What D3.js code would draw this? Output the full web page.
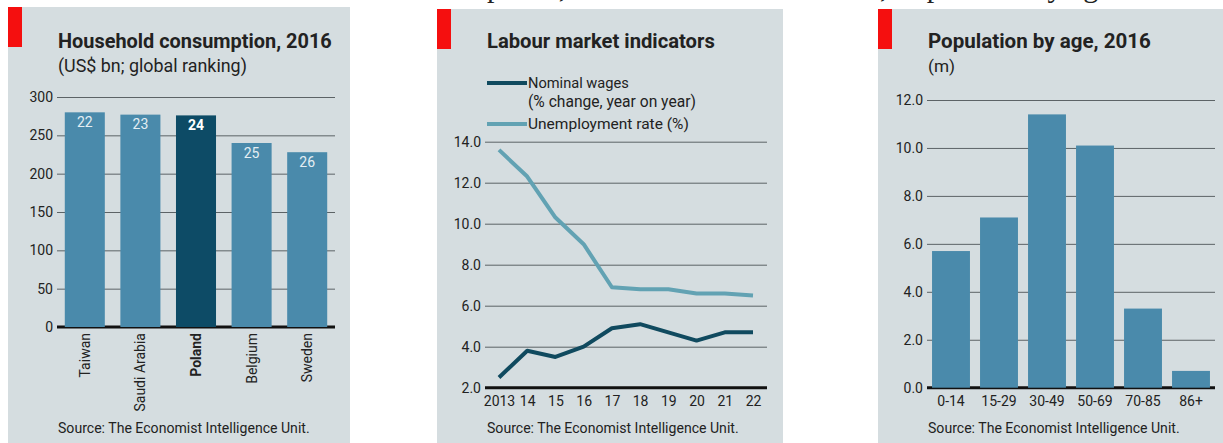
<!DOCTYPE html>
<html>
<head>
<meta charset="utf-8">
<script src="https://cdn.jsdelivr.net/npm/d3@7"></script>
<style>
body { margin: 0; background: #fff; }
text { font-family: Roboto, "Open Sans", sans-serif; fill: #222; }
</style>
</head>
<body>
<svg width="1223" height="443"></svg>
<script>
// household consumption
var countries = ["Taiwan", "Saudi Arabia", "Poland", "Belgium", "Sweden"];
var consumption = [280, 277, 276, 240, 228];
var ranking = [22, 23, 24, 25, 26];
var consumptionTicks = [0, 50, 100, 150, 200, 250, 300];

// labour market
var years = [2013, 2014, 2015, 2016, 2017, 2018, 2019, 2020, 2021, 2022];
var yearLabels = ["2013", "14", "15", "16", "17", "18", "19", "20", "21", "22"];
var wages = [2.5, 3.8, 3.5, 4.0, 4.9, 5.1, 4.7, 4.3, 4.7, 4.7];
var unemployment = [13.6, 12.3, 10.3, 9.0, 6.9, 6.8, 6.8, 6.6, 6.6, 6.5];
var labourTicks = [2, 4, 6, 8, 10, 12, 14];

// population
var ageGroups = ["0-14", "15-29", "30-49", "50-69", "70-85", "86+"];
var population = [5.7, 7.1, 11.4, 10.1, 3.3, 0.7];
var populationTicks = [0, 2, 4, 6, 8, 10, 12];

var bg = "#d5dde0",
  barColor = "#4a8aab",
  barDark = "#0d4b66",
  wageColor = "#104a5f",
  unempColor = "#62a2b3",
  gridColor = "#5c6366";

var svg = d3.select("svg");

function fitWidth(sel, w) {
  var len = sel.node().getComputedTextLength();
  var fs = parseFloat(sel.style("font-size"));
  sel.style("font-size", (fs * w / len) + "px");
}

// caption line above the panels, cut off by the top edge
var cap1 = svg.append("text").attr("y", -3)
  .style("font-family", "'Liberation Serif', serif").style("font-size", "30px")
  .text("Consumer prices,");
cap1.attr("x", 487 - cap1.node().getStartPositionOfChar(9).x);
var cap2 = svg.append("text").attr("y", -3)
  .style("font-family", "'Liberation Serif', serif").style("font-size", "30px")
  .text("and the labour market, Population by age");
cap2.attr("x", 880 - cap2.node().getStartPositionOfChar(21).x);

function panel(x0, y0, x1, title, tw, sub, sw) {
  var g = svg.append("g");
  g.append("rect").attr("x", x0).attr("y", y0).attr("width", x1 - x0).attr("height", 443 - y0).attr("fill", bg);
  g.append("rect").attr("x", x0).attr("y", y0).attr("width", 14).attr("height", 40).attr("fill", "#f50f0f");
  var t = g.append("text").attr("x", x0 + 50).attr("y", 48)
    .style("font-weight", "bold").style("font-size", "19px").text(title);
  fitWidth(t, tw);
  if (sub) {
    var s = g.append("text").attr("x", x0 + 50).attr("y", 72).style("font-size", "16px").text(sub);
    fitWidth(s, sw);
  }
  var src = g.append("text").attr("x", x0 + 50).attr("y", 433)
    .style("font-size", "13px").text("Source: The Economist Intelligence Unit.");
  fitWidth(src, 252);
  return g;
}

function yGrid(g, y, x0, x1, ticks, fmt) {
  var ax = g.append("g").attr("transform", "translate(" + x0 + ",0)")
    .call(d3.axisLeft(y).tickValues(ticks).tickSize(-(x1 - x0)).tickPadding(4).tickFormat(fmt));
  ax.select(".domain").remove();
  ax.selectAll(".tick line").attr("stroke", gridColor).attr("stroke-width", 1);
  ax.selectAll(".tick text").style("font-size", "14px").style("font-family", "Roboto, sans-serif").attr("fill", "#333");
  g.append("line").attr("x1", x0).attr("x2", x1).attr("y1", y(ticks[0])).attr("y2", y(ticks[0]))
    .attr("stroke", "#111").attr("stroke-width", 3);
}

// ---- panel 1
var p1 = panel(8, 7, 350, "Household consumption, 2016", 274, "(US$ bn; global ranking)", 189);
var y1 = d3.scaleLinear().domain([0, 300]).range([327, 97]);
var x1 = d3.scaleBand().domain(countries).range([57, 335]).paddingInner(0.28).paddingOuter(0.14);
yGrid(p1, y1, 57, 335, consumptionTicks, d3.format("d"));
p1.selectAll(".bar").data(countries).enter().append("rect")
  .attr("x", function(d) { return x1(d); })
  .attr("y", function(d, i) { return y1(consumption[i]); })
  .attr("width", x1.bandwidth())
  .attr("height", function(d, i) { return y1(0) - y1(consumption[i]); })
  .attr("fill", function(d) { return d == "Poland" ? barDark : barColor; });
p1.selectAll(".rank").data(countries).enter().append("text")
  .attr("x", function(d) { return x1(d) + x1.bandwidth() / 2; })
  .attr("y", function(d, i) { return y1(consumption[i]) + 14.5; })
  .attr("text-anchor", "middle")
  .style("font-size", "14px").style("fill", function(d) { return d == "Poland" ? "#fff" : "#e4eef3"; })
  .style("font-weight", function(d) { return d == "Poland" ? "bold" : "normal"; })
  .text(function(d, i) { return ranking[i]; });
p1.selectAll(".clabel").data(countries).enter().append("text")
  .attr("transform", function(d) { return "translate(" + (x1(d) + x1.bandwidth() / 2) + ",333) rotate(-90)"; })
  .attr("text-anchor", "end").attr("dy", "0.35em")
  .style("font-size", "14px")
  .style("font-weight", function(d) { return d == "Poland" ? "bold" : "normal"; })
  .text(function(d) { return d; });

// ---- panel 2
var p2 = panel(437, 9, 783, "Labour market indicators", 228);
var y2 = d3.scaleLinear().domain([2, 14]).range([387.7, 141.7]);
var x2 = d3.scalePoint().domain(years).range([499, 753]);
yGrid(p2, y2, 485, 767, labourTicks, d3.format(".1f"));
var xa = p2.append("g").attr("transform", "translate(0," + y2(2) + ")")
  .call(d3.axisBottom(x2).tickSize(0).tickPadding(8).tickFormat(function(d, i) { return yearLabels[i]; }));
xa.select(".domain").remove();
xa.selectAll("text").style("font-size", "14px").style("font-family", "Roboto, sans-serif").attr("fill", "#333");

var line = d3.line()
  .x(function(d, i) { return x2(years[i]); })
  .y(function(d) { return y2(d); });
p2.append("path").datum(unemployment).attr("d", line)
  .attr("fill", "none").attr("stroke", unempColor).attr("stroke-width", 4).attr("stroke-linejoin", "round");
p2.append("path").datum(wages).attr("d", line)
  .attr("fill", "none").attr("stroke", wageColor).attr("stroke-width", 4).attr("stroke-linejoin", "round");

var legend = [
  {color: wageColor, lines: ["Nominal wages", "(% change, year on year)"], y: 83, w: [101, 168]},
  {color: unempColor, lines: ["Unemployment rate (%)"], y: 124, w: [161]}
];
legend.forEach(function(l) {
  p2.append("line").attr("x1", 487).attr("x2", 527).attr("y1", l.y).attr("y2", l.y)
    .attr("stroke", l.color).attr("stroke-width", 4);
  l.lines.forEach(function(s, j) {
    var t = p2.append("text").attr("x", 528).attr("y", l.y + 5 + j * 19).style("font-size", "15px").text(s);
    fitWidth(t, l.w[j]);
  });
});

// ---- panel 3
var p3 = panel(878, 9, 1223, "Population by age, 2016", 223, "(m)", 27);
var y3 = d3.scaleLinear().domain([0, 12]).range([387.7, 100]);
var x3 = d3.scaleBand().domain(ageGroups).range([927, 1215]).paddingInner(0.21).paddingOuter(0.105);
yGrid(p3, y3, 927, 1215, populationTicks, d3.format(".1f"));
p3.selectAll(".bar").data(ageGroups).enter().append("rect")
  .attr("x", function(d) { return x3(d); })
  .attr("y", function(d, i) { return y3(population[i]); })
  .attr("width", x3.bandwidth())
  .attr("height", function(d, i) { return y3(0) - y3(population[i]); })
  .attr("fill", barColor);
var xa3 = p3.append("g").attr("transform", "translate(0," + y3(0) + ")")
  .call(d3.axisBottom(x3).tickSize(0).tickPadding(8));
xa3.select(".domain").remove();
xa3.selectAll("text").style("font-size", "14px").style("font-family", "Roboto, sans-serif").attr("fill", "#333");
</script>
</body>
</html>
